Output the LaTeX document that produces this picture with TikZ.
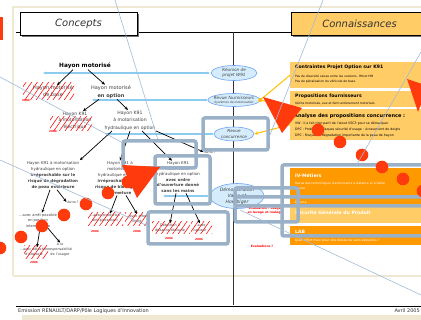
\documentclass[tikz,border=0pt]{standalone}
\usepackage{fontspec}
\setmainfont{DejaVu Sans}
\usetikzlibrary{arrows.meta,shapes.geometric,patterns.meta}
\definecolor{kor}{HTML}{FFCC66}
\definecolor{kdark}{HTML}{FF9900}
\definecolor{cblue}{HTML}{8CCBF0}
\definecolor{eblue}{HTML}{D4ECFB}
\definecolor{slate}{HTML}{9BB1C8}
\definecolor{hot}{HTML}{FF3A0C}
\definecolor{beige}{HTML}{EFE9D4}
\definecolor{ygold}{HTML}{FFC000}
\definecolor{sky}{HTML}{A3BBD8}
\tikzset{
  ctxt/.style={align=center, inner sep=0.6pt, text=black!75},
  head/.style={draw=black, line width=0.7, minimum width=117, minimum height=23, font=\fontsize{10}{12}\selectfont\itshape, text=black!80},
  kell/.style={ellipse, draw=cblue!80!blue, fill=eblue, line width=0.6, inner sep=0},
  etxt/.style={align=center, inner sep=0, text=black!75, font=\fontsize{4.2}{5.5}\selectfont\itshape},
  blink/.style={cblue, line width=1.1, {Latex[length=3pt,width=3.2pt]}-{Latex[length=3pt,width=3.2pt]}},
  tarr/.style={-{Stealth[length=3.5pt,width=3pt]}, line width=0.7},
  hatch/.style={pattern={Lines[angle=55,distance=4.6pt,line width=0.55pt]}, pattern color=red},
  redlbl/.style={inner sep=0, text=red, font=\fontsize{2.8}{3}\selectfont\bfseries},
  kbox/.style={anchor=north west, inner sep=0, minimum width=140},
  ktitle/.style={anchor=west, inner sep=0, font=\fontsize{4.6}{5}\selectfont\bfseries},
  kline/.style={anchor=west, inner sep=0, font=\fontsize{3}{4}\selectfont},
  yline/.style={ygold, line width=1},
  slatebox/.style={draw=slate, line width=3.5, rounded corners=2},
  skyline/.style={sky, line width=0.6},
  foot/.style={inner sep=0, font=\fontsize{5}{6}\selectfont, text=black!80}
}
\begin{document}
\begin{tikzpicture}[x=1pt,y=-1pt]
\useasboundingbox[fill=white] (0,0) rectangle (421,320);
\draw[beige,line width=1.5] (13,276) -- (13,7) -- (421,7);
\draw[beige,line width=2] (13,276) -- (421,276);
\fill[beige] (22,315) rectangle (421,320);
\fill[hot] (0,17) rectangle (3,40);
\draw[line width=0.8] (16,32) -- (291,32);
\draw[line width=0.8,black!80] (233,32) -- (233,305);

\fill[black!55] (22,14) rectangle (139,37);
\node[head, fill=white] (conc) at (78.5,23.5) {Concepts};
\fill[black!55] (293,14) rectangle (430,37);
\node[head, fill=kor, minimum width=137] (conn) at (359.5,23.5) {Connaissances};

\coordinate (b1) at (43,73);
\coordinate (b2) at (92,100);
\coordinate (b3) at (105,134);
\coordinate (b4) at (163,196);
\draw[blink] (b1) -- (210,73);
\draw[blink] (b2) -- (208,100);
\draw[blink] (b3) -- (214,134);
\draw[blink] (b4) -- (209,196);
\node[kell, minimum width=46, minimum height=15] (e1) at (234,73) {};
\node[etxt] at (e1) {Réunion de\\projet W91};
\node[kell, minimum width=52, minimum height=13] (e2) at (234,100) {};
\node[etxt] at (e2) {Revue fournisseurs\\[-1.5pt]{\fontsize{3}{3.5}\selectfont Systèmes de motorisation}};
\node[kell, minimum width=40, minimum height=14] (e3) at (234,134) {};
\node[etxt] at (e3) {Revue\\concurrence};
\node[kell, minimum width=54, minimum height=25] (e4) at (237,196) {};
\node[etxt, font=\fontsize{4.6}{6.2}\selectfont\itshape] at (e4) {Démonstration\\Valéo et\\Hoerbiger};

\node[ctxt, text=black, font=\fontsize{5.8}{7}\selectfont\bfseries] (hm) at (85,66) {Hayon motorisé};
\node[ctxt, font=\fontsize{5}{7}\selectfont] (hmb) at (53,91.5) {Hayon motorisé\\de base};
\node[ctxt, font=\fontsize{5}{8}\selectfont] (hmo) at (111,92) {Hayon motorisé\\\textbf{en option}};
\node[ctxt, font=\fontsize{4.5}{6.5}\selectfont] (ke) at (75,120.5) {Hayon K91\\à motorisation\\électrique};
\node[ctxt, font=\fontsize{4.6}{7.5}\selectfont] (kh) at (130,120.5) {Hayon K91\\à motorisation\\hydraulique en option};
\node[ctxt, font=\fontsize{4}{6}\selectfont] (c1) at (53,175) {Hayon K91 à motorisation\\hydraulique en option\\\textbf{irréprochable sur le}\\\textbf{risque de dégradation}\\\textbf{de peau extérieure}};
\node[ctxt, font=\fontsize{4}{6}\selectfont] (c2) at (120,178) {Hayon K91 à\\motorisation\\hydraulique en option\\\textbf{irréprochable sur le}\\\textbf{risque de blocage à la}\\\textbf{fermeture}};
\node[ctxt, font=\fontsize{4}{5.6}\selectfont] (c3) at (178,177) {Hayon K91\\motorisation\\hydraulique en option\\\textbf{avec ordre}\\\textbf{d'ouverture donné}\\\textbf{sans les mains}};
\node[ctxt, font=\fontsize{3.2}{4}\selectfont] (autre1) at (73,202) {Autre ?};
\node[ctxt, font=\fontsize{3.2}{4}\selectfont] (autre2) at (210,152) {Autre ?};
\node[ctxt, font=\fontsize{3.6}{5.5}\selectfont] (d1) at (38,220.5) {…avec arrêt possible\\en position\\intermédiaire};
\node[ctxt, font=\fontsize{3.4}{5}\selectfont] (d2) at (34,252) {…avec détection\\d'obstacle};
\node[ctxt, font=\fontsize{3.4}{5}\selectfont] (d3) at (60,250) {A la\\responsabilité\\de l'usager};
\node[ctxt, font=\fontsize{3.4}{5}\selectfont] (g1) at (105,218.5) {…avec protection\\anti-pincement};
\node[ctxt, font=\fontsize{3.4}{5}\selectfont] (g2) at (137,218.5) {…avec effort\\limité};
\node[ctxt, font=\fontsize{3.4}{5}\selectfont] (f1) at (170,228) {Détection à\\distance obstacle};
\node[ctxt, font=\fontsize{3.4}{5}\selectfont] (f2) at (200,228) {…avec\\capteur};

\path[hatch] (23,83) rectangle (74,100);
\path[hatch] (50,117) rectangle (92,131);
\path[hatch] (24,246) rectangle (48,259);
\path[hatch] (88,213) rectangle (123,226);
\path[hatch] (125,213) rectangle (149,226);
\path[hatch] (152,222) rectangle (190,234);
\path[hatch] (191,222) rectangle (212,234);
\node[redlbl] (r1) at (26,100) {2004};
\node[redlbl] (r2) at (53,131.5) {2004};
\node[redlbl] (r3) at (34,262) {2004};
\node[redlbl] (r4) at (95,231) {2004};
\node[redlbl] (r5) at (137,231) {2004};
\node[redlbl] (r6) at (169,238) {2004};
\node[redlbl] (r7) at (199,239) {2004};

\draw[tarr] ([xshift=-12pt]hm.south) -- ([xshift=4pt]hmb.north);
\draw[tarr] ([xshift=3pt]hm.south) -- ([xshift=-6pt]hmo.north);
\draw[tarr] ([xshift=-12pt]hmo.south) -- ([xshift=8pt]ke.north);
\draw[tarr] ([xshift=6pt]hmo.south) -- ([xshift=-2pt]kh.north);
\draw[tarr] ([xshift=-18pt]kh.south) -- (c1.north east);
\draw[tarr] (kh.south) -- (c2.north);
\draw[tarr] ([xshift=12pt]kh.south) -- ([xshift=-6pt]c3.north);
\draw[tarr] (kh.south east) -- (autre2.west);
\draw[tarr] ([xshift=-3pt]c1.south) -- ([xshift=4pt]d1.north);
\draw[tarr] ([xshift=4pt]c1.south) -- (autre1.west);
\draw[tarr] ([xshift=-3pt]c2.south) -- ([xshift=5pt]g1.north);
\draw[tarr] ([xshift=6pt]c2.south) -- (g2.north);
\draw[tarr] ([xshift=-2pt]c3.south) -- (f1.north);
\draw[tarr] ([xshift=8pt]c3.south) -- (f2.north);
\draw[tarr] ([xshift=2pt]d1.south) -- ([xshift=3pt]d2.north);
\draw[tarr] ([xshift=10pt]d1.south) -- (d3.north);

\node[kbox, fill=kor, minimum height=26] (k1) at (290,62) {};
\node[kbox, fill=kor, minimum height=16] (k2) at (290,91) {};
\node[kbox, fill=kor, minimum height=31] (k3) at (290,109) {};
\node[kbox, fill=kdark, minimum height=36] (k4) at (290,168) {};
\node[kbox, fill=kor, minimum height=18] (k5) at (290,205) {};
\node[kbox, fill=kdark, minimum height=19] (k6) at (290,226) {};
\node[ktitle] (k1t) at (295,67) {Contraintes Projet Option sur K91};
\node[kline] (k1a) at (295,76) {Pas de diversité caisse entre les versions. HN et HM};
\node[kline] (k1b) at (295,82) {Pas de pénalisation du véhicule de base};
\node[ktitle] (k2t) at (295,96) {Propositions fournisseurs};
\node[kline] (k2a) at (295,103) {Vérins motorisés, eux et ferm entièrement motorisés};
\node[ktitle, font=\fontsize{5}{6}\selectfont\bfseries] (k3t) at (294,116) {Analyse des propositions concurrence :};
\node[kline, font=\fontsize{3.2}{4}\selectfont] (k3a) at (295,124) {VW : il a fait tirer parti de l'atout VSC3 pour se démarquer};
\node[kline, font=\fontsize{3.2}{4}\selectfont] (k3b) at (295,130) {DPC : Problèmes/risques sécurité d'usage : écrasement de doigts};
\node[kline, font=\fontsize{3.2}{4}\selectfont] (k3c) at (295,136) {DPC : Risque de dégradation importante de la peau de hayon};
\node[ktitle, text=white] (k4t) at (295,176) {IV-Métiers};
\node[kline, text=white] (k4a) at (295,184) {Revue des technologies d'actionneurs à distance et à faible};
\node[kline, text=white] (k4b) at (295,189) {course};
\node[kline, text=white] (k4c) at (295,202) {Diverse};
\node[ktitle, text=white] (k5t) at (295,213) {Sécurité Générale du Produit};
\node[ktitle, text=white] (k6t) at (295,232) {LAB};
\node[kline, text=white, font=\fontsize{3.2}{4}\selectfont] (k6a) at (295,241) {Quel effort maxi pour des blessures sans séquelles ?};

\draw[yline] (e2.east) -- (k1.west);
\draw[yline] (e2.east) -- (k2.south west);
\fill[ygold] (e2.east) circle (2pt);
\draw[yline, -{Stealth[length=4pt,width=3.5pt]}] (k3.west) -- (e3.east);

\node[redlbl, align=center, font=\fontsize{3}{4}\selectfont\bfseries] (ev1) at (265,211) {Evaluation : usage\\en lavage et roulage};
\node[redlbl, font=\fontsize{3}{4}\selectfont\bfseries] (ev2) at (262,246) {Evaluations ?};

\draw[slatebox] (123,141) rectangle (196,168);
\draw[slatebox] (155,156) rectangle (210,204);
\draw[slatebox] (148,212) rectangle (228,244);
\draw[slatebox] (203,118) rectangle (268,150);
\draw[slatebox] (235,188) rectangle (298,222);
\draw[slatebox] (282,165) rectangle (440,236);
\draw[slatebox] (235,197) rectangle (440,206);

\fill[hot] (122,165) -- (160,167) -- (137,198) -- cycle;
\fill[hot] (263,97) -- (302,108) -- (282,133) -- cycle;
\fill[hot] (407,79) -- (428,86) -- (418,112) -- cycle;
\foreach \x/\y in {128/182,108/193,86/204,64/215,42/226,21/237,0/248,318/130,340/142,362/155,382/167,403/179,423/191}
  \fill[hot] (\x,\y) circle (6.3pt);

\draw[skyline] (115,0) -- (158,140);
\draw[skyline] (0,77) -- (123,143);
\draw[skyline] (0,160) -- (148,226);
\draw[skyline] (323,0) -- (268,140);
\draw[skyline] (421,52) -- (356,166);
\draw[skyline] (240,210) -- (421,295);

\draw[line width=0.8] (16,306) -- (421,306);
\node[foot, anchor=west] (em) at (18,311) {Emission RENAULT/DARP/Pôle Logiques d'Innovation};
\node[foot, anchor=east] (av) at (420,311) {Avril 2005};
\end{tikzpicture}
\end{document}
